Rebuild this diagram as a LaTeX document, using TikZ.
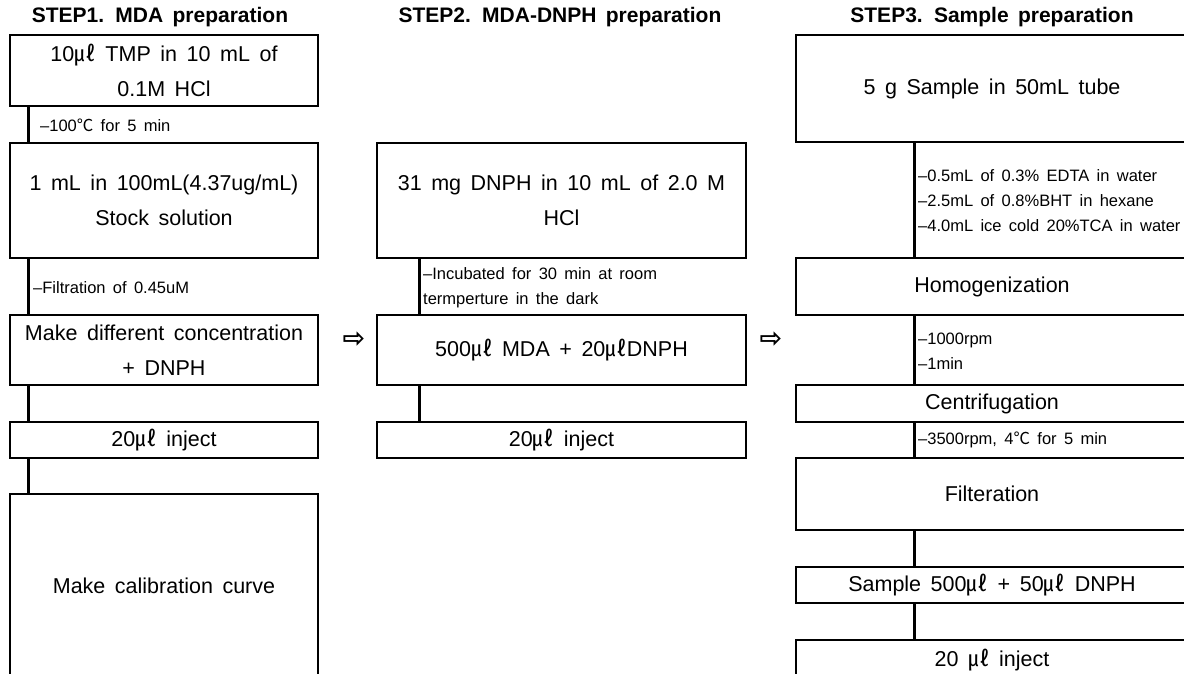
\documentclass[tikz,border=0pt]{standalone}
\usepackage{fontspec}
\setmainfont[WordSpace=1.6]{Liberation Sans}
\newfontfamily\cjk{Noto Sans CJK KR}
\newfontfamily\symfont{DejaVu Sans}
\newcommand{\microL}{{\cjk ㎕}}
\newcommand{\celsius}{{\cjk ℃}}

\tikzset{
  stepbox/.style={draw, line width=2.8pt, inner sep=0pt, align=center,
                  font=\fontsize{21.5}{35}\selectfont},
  steptitle/.style={inner sep=0pt, font=\bfseries\fontsize{21}{24}\selectfont},
  cond/.style={anchor=west, inner sep=0pt, align=left,
               font=\fontsize{16.5}{25}\selectfont},
  link/.style={line width=2.8pt},
  nextstep/.style={inner sep=0pt, font=\symfont\bfseries\fontsize{27}{27}\selectfont}
}

\begin{document}
\begin{tikzpicture}[x=1pt, y=-1pt]
  \useasboundingbox (0,0) rectangle (1184,673);
  \clip (0,0) rectangle (1184,673);

  % titles
  \node[steptitle] (title1) at (160,17) {STEP1. MDA preparation};
  \node[steptitle] (title2) at (560,17) {STEP2. MDA-DNPH preparation};
  \node[steptitle] (title3) at (992,17) {STEP3. Sample preparation};

  % STEP1
  \node[stepbox, minimum width=308, minimum height=71] (tmp) at (164,70.5)
    {10\microL{} TMP in 10 mL of\\0.1M HCl};
  \node[stepbox, minimum width=308, minimum height=115] (stock) at (164,200.5)
    {1 mL in 100mL(4.37ug/mL)\\Stock solution};
  \node[stepbox, minimum width=308, minimum height=70] (conc) at (164,350)
    {Make different concentration\\+ DNPH};
  \node[stepbox, minimum width=308, minimum height=36] (inj1) at (164,440)
    {20\microL{} inject};
  \node[stepbox, minimum width=308, minimum height=184] (curve) at (164,586)
    {Make calibration curve};

  \draw[link] ([xshift=20]tmp.south west) -- ([xshift=20]stock.north west);
  \draw[link] ([xshift=20]stock.south west) -- ([xshift=20]conc.north west);
  \draw[link] ([xshift=20]conc.south west) -- ([xshift=20]inj1.north west);
  \draw[link] ([xshift=20]inj1.south west) -- ([xshift=20]curve.north west);

  \node[cond] (heat) at (40,125) {–100\celsius{} for 5 min};
  \node[cond] (filt) at (33,288) {–Filtration of 0.45uM};

  % STEP2
  \node[stepbox, minimum width=369, minimum height=115] (dnph) at (561.5,200.5)
    {31 mg DNPH in 10 mL of 2.0 M\\HCl};
  \node[stepbox, minimum width=369, minimum height=70] (mix) at (561.5,350)
    {500\microL{} MDA + 20\microL DNPH};
  \node[stepbox, minimum width=369, minimum height=36] (inj2) at (561.5,440)
    {20\microL{} inject};

  \draw[link] ([xshift=44]dnph.south west) -- ([xshift=44]mix.north west);
  \draw[link] ([xshift=44]mix.south west) -- ([xshift=44]inj2.north west);

  \node[cond] (incub) at (423,288)
    {–Incubated for 30 min at room\\termperture in the dark};

  % STEP3
  \node[stepbox, minimum width=392, minimum height=107] (sample) at (992,88.5)
    {5 g Sample in 50mL tube};
  \node[stepbox, minimum width=392, minimum height=57] (homo) at (992,286.5)
    {Homogenization};
  \node[stepbox, minimum width=392, minimum height=37] (centri) at (992,403.5)
    {Centrifugation};
  \node[stepbox, minimum width=392, minimum height=72] (filter) at (992,494)
    {Filteration};
  \node[stepbox, minimum width=392, minimum height=36] (dnphmix) at (992,585)
    {Sample 500\microL{} + 50\microL{} DNPH};
  \node[stepbox, minimum width=392, minimum height=40] (inj3) at (992,660)
    {20 \microL{} inject};

  \foreach \a/\b in {sample/homo, homo/centri, centri/filter,
                     filter/dnphmix, dnphmix/inj3}
    \draw[link] ([xshift=120]\a.south west) -- ([xshift=120]\b.north west);

  \node[cond] (reag) at (918,201)
    {–0.5mL of 0.3\% EDTA in water\\–2.5mL of 0.8\%BHT in hexane\\
     –4.0mL ice cold 20\%TCA in water};
  \node[cond] (rpm) at (918,351) {–1000rpm\\–1min};
  \node[cond] (spin) at (918,440) {–3500rpm, 4\celsius{} for 5 min};

  % arrows between the steps
  \node[nextstep] (go2) at (354,340) {⇨};
  \node[nextstep] (go3) at (771,340) {⇨};
\end{tikzpicture}
\end{document}
